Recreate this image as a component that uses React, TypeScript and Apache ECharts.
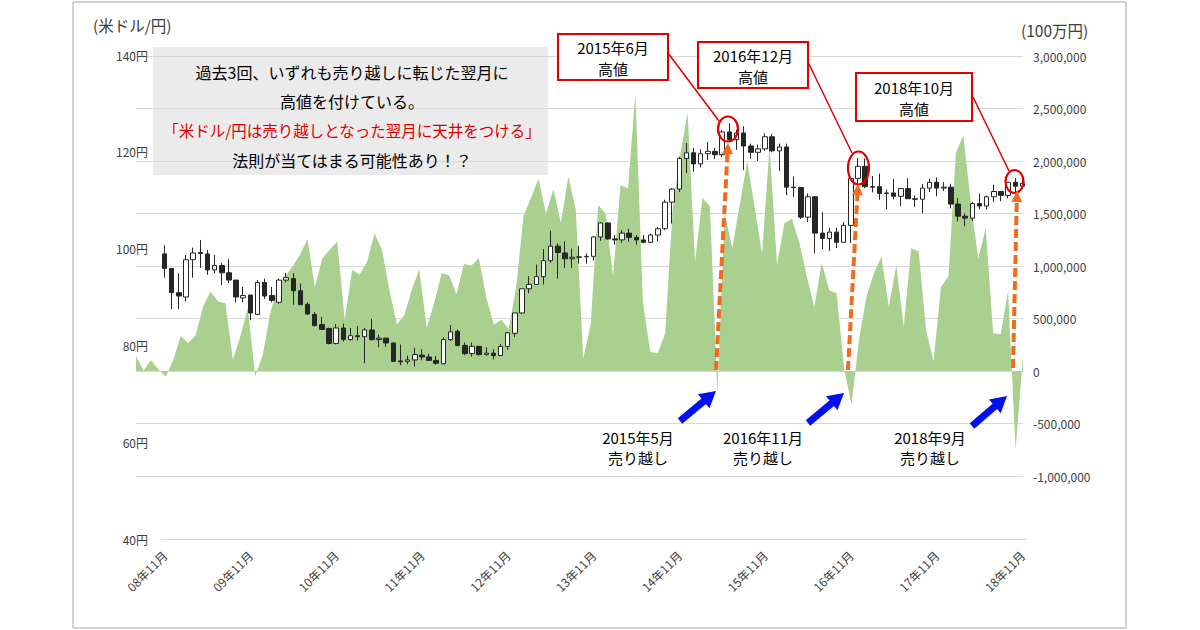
import React, { useEffect, useRef } from "react";
import * as echarts from "echarts";

// USD/JPY monthly candles, 2008-11 .. 2018-11 : [open, close, low, high]
const usdJpyOHLC: number[][] = [
  [98.9, 95.9, 94.0, 100.7], [95.9, 90.9, 87.5, 96.0], [90.9, 90.2, 87.5, 94.9], [90.0, 97.7, 89.1, 98.7],
  [97.7, 99.1, 94.0, 100.2], [99.2, 99.0, 96.0, 101.8], [98.9, 95.6, 94.6, 99.7], [95.6, 96.5, 94.9, 98.7],
  [96.5, 95.0, 92.5, 97.0], [95.0, 93.5, 92.9, 97.8], [93.5, 90.0, 88.9, 93.5], [89.8, 90.3, 88.9, 92.1],
  [90.4, 86.7, 85.2, 90.4], [86.4, 93.0, 86.3, 93.5], [93.0, 90.2, 89.6, 93.8], [90.3, 89.3, 88.9, 92.1],
  [88.9, 93.5, 88.6, 93.8], [93.5, 94.0, 93.0, 95.0], [93.8, 91.3, 88.4, 94.9], [91.3, 88.4, 88.4, 92.8],
  [88.5, 86.5, 86.3, 88.9], [86.4, 84.1, 83.9, 86.9], [84.3, 83.3, 83.2, 85.9], [83.5, 80.4, 80.2, 83.7],
  [80.4, 83.6, 80.2, 84.4], [83.6, 81.2, 80.8, 84.5], [81.2, 82.0, 81.0, 83.6], [82.0, 81.8, 81.0, 84.0],
  [81.8, 83.2, 76.3, 83.6], [83.2, 81.2, 81.0, 85.5], [81.2, 81.5, 79.6, 82.2], [81.5, 80.5, 79.7, 81.6],
  [80.5, 76.7, 76.7, 80.6], [76.8, 76.6, 75.9, 80.2], [76.7, 77.0, 76.1, 77.9], [77.0, 78.1, 75.6, 79.5],
  [78.0, 77.6, 76.9, 79.2], [77.6, 76.9, 76.9, 78.3], [76.9, 76.3, 76.0, 77.8], [76.2, 81.2, 76.1, 81.7],
  [81.2, 82.8, 80.9, 84.2], [82.9, 80.0, 79.8, 83.3], [80.0, 78.3, 78.0, 80.6], [78.3, 79.8, 77.7, 80.6],
  [79.8, 78.1, 77.9, 79.9], [78.1, 78.4, 77.9, 79.6], [78.4, 77.9, 77.1, 79.2], [77.9, 79.8, 77.9, 80.3],
  [79.8, 82.6, 79.1, 82.8], [82.5, 86.7, 81.7, 86.7], [86.7, 91.7, 86.5, 91.7], [91.7, 92.6, 90.8, 94.3],
  [92.6, 94.2, 92.5, 96.7], [94.2, 97.5, 92.6, 99.9], [97.5, 100.5, 97.1, 103.7], [100.5, 99.2, 93.8, 101.1],
  [99.1, 97.9, 96.0, 101.5], [97.9, 98.2, 96.0, 100.0], [98.2, 98.3, 96.9, 100.6], [98.3, 98.4, 96.9, 99.0],
  [98.4, 102.4, 97.5, 102.6], [102.4, 105.3, 101.6, 105.4], [105.3, 102.0, 101.8, 105.4], [102.0, 101.8, 100.8, 102.8],
  [101.8, 103.2, 101.2, 103.8], [103.2, 102.3, 101.4, 104.1], [102.3, 101.8, 100.8, 102.8], [101.8, 101.3, 101.1, 102.8],
  [101.3, 102.8, 101.1, 103.1], [102.8, 104.1, 101.5, 104.5], [104.1, 109.6, 103.8, 110.1], [109.6, 112.3, 105.2, 112.5],
  [112.3, 118.6, 111.7, 119.0], [118.6, 119.8, 115.6, 121.8], [119.8, 117.5, 115.9, 120.8], [117.5, 119.6, 116.8, 120.5],
  [119.6, 120.1, 118.3, 122.0], [120.1, 119.4, 118.5, 120.8], [119.4, 124.1, 118.9, 124.5], [124.1, 122.5, 122.0, 125.9],
  [122.5, 123.9, 120.4, 124.6], [123.9, 121.2, 116.2, 125.3], [121.2, 119.9, 118.6, 121.7], [119.9, 120.6, 118.1, 121.5],
  [120.6, 123.1, 120.2, 123.8], [123.1, 120.2, 119.9, 123.7], [120.2, 121.0, 116.0, 121.7], [121.0, 112.7, 111.0, 121.7],
  [112.7, 112.6, 110.7, 114.9], [112.6, 106.5, 106.1, 112.7], [106.5, 110.7, 105.5, 111.4], [110.7, 103.2, 99.0, 110.9],
  [103.2, 102.1, 99.9, 107.5], [102.1, 103.4, 99.5, 104.3], [103.4, 101.3, 100.1, 104.3], [101.3, 104.8, 101.2, 105.5],
  [104.8, 114.5, 101.2, 114.8], [114.5, 117.0, 112.9, 118.7], [117.0, 112.8, 112.5, 118.6], [112.8, 112.7, 111.6, 115.0],
  [112.8, 111.4, 110.1, 115.5], [111.4, 111.5, 108.1, 112.2], [111.5, 110.8, 110.2, 114.4], [110.8, 112.4, 108.8, 112.5],
  [112.4, 110.3, 110.3, 114.5], [110.3, 110.2, 108.6, 111.0], [110.2, 112.5, 107.3, 113.3], [112.5, 113.7, 111.7, 114.45],
  [113.7, 112.5, 110.8, 114.7], [112.5, 112.7, 111.9, 113.75], [112.7, 109.2, 108.3, 113.4], [109.2, 106.7, 105.6, 110.5],
  [106.7, 106.3, 104.6, 107.3], [106.3, 109.3, 105.7, 109.6], [109.3, 108.8, 108.1, 111.4], [108.8, 110.7, 108.1, 111.0],
  [110.7, 111.8, 109.6, 113.2], [111.8, 111.0, 109.8, 111.8], [111.0, 113.7, 110.4, 113.7], [113.7, 112.9, 111.4, 114.55],
  [112.9, 113.5, 112.3, 114.2],
];

// net yen position (million yen), 2008-11 .. 2018-10
const netPosition: number[] = [
  143000, 5000, 105000, 16000, -54000, 105000, 334000, 264000, 340000, 614000,
  757000, 661000, 645000, 105000, 330000, 600000, -50000, 150000, 550000, 800000,
  900000, 995000, 1107000, 1257000, 800000, 1075000, 1155000, 1234000, 487000, 964000,
  920000, 1040000, 1310000, 1155000, 770000, 440000, 534000, 773000, 970000, 415000,
  645000, 930000, 912000, 730000, 1020000, 1005000, 1075000, 700000, 440000, 487000,
  400000, 800000, 1480000, 1650000, 1830000, 1500000, 1730000, 1410000, 1850000, 1540000,
  120000, 440000, 1580000, 1500000, 900000, 1770000, 1740000, 2640000, 660000, 180000,
  170000, 360000, 1540000, 2050000, 2460000, 1040000, 1650000, 1570000, -200000, 1500000,
  1170000, 1580000, 2000000, 1560000, 1120000, 2140000, 1010000, 1410000, 1450000, 1220000,
  900000, 610000, 1030000, 770000, 740000, 20000, -320000, 300000, 710000, 930000,
  1090000, 610000, 1010000, 420000, 1170000, 1140000, 390000, 90000, 800000, 900000,
  2080000, 2240000, 1600000, 1070000, 1360000, 360000, 350000, 760000, -750000, 140000,
];

function monthLabels(startY: number, startM: number, count: number): string[] {
  const out: string[] = [];
  let y = startY;
  let m = startM;
  for (let i = 0; i < count; i++) {
    out.push(`${String(y % 100).padStart(2, "0")}年${m}月`);
    m++;
    if (m > 12) { m = 1; y++; }
  }
  return out;
}

const candleMonths = monthLabels(2008, 11, usdJpyOHLC.length);
const areaMonths = monthLabels(2008, 11, netPosition.length);

const leftTicks = { min: 40, max: 140, step: 20 };
const rightTicks = { min: -1000000, max: 3000000, step: 500000 };

const FONT = "'Noto Sans CJK JP', 'Noto Sans', sans-serif";
const RED = "#E00000";
const ORANGE = "#F26A1E";
const BLUE = "#0010F0";

function arrowPoly(tx: number, ty: number, hx: number, hy: number, sw: number, hl: number, hw: number) {
  const dx = hx - tx, dy = hy - ty;
  const len = Math.sqrt(dx * dx + dy * dy);
  const ux = dx / len, uy = dy / len;
  const nx = -uy, ny = ux;
  const bx = hx - ux * hl, by = hy - uy * hl;
  return [
    [tx + nx * sw / 2, ty + ny * sw / 2],
    [bx + nx * sw / 2, by + ny * sw / 2],
    [bx + nx * hw / 2, by + ny * hw / 2],
    [hx, hy],
    [bx - nx * hw / 2, by - ny * hw / 2],
    [bx - nx * sw / 2, by - ny * sw / 2],
    [tx - nx * sw / 2, ty - ny * sw / 2],
  ];
}

function txt(text: string, x: number, y: number, size: number, fill = "#000", align = "center") {
  return {
    type: "text", z: 100,
    style: { text, x, y, fill, fontSize: size, fontFamily: FONT, textAlign: align, textVerticalAlign: "middle" },
  };
}

function highBox(x: number, y: number, w: number, h: number, l1: string) {
  return [
    { type: "rect", z: 100, shape: { x, y, width: w, height: h }, style: { fill: "#fff", stroke: RED, lineWidth: 2 } },
    txt(l1, x + w / 2, y + h * 0.3, 15),
    txt("高値", x + w / 2, y + h * 0.74, 15),
  ];
}

function redLine(x1: number, y1: number, x2: number, y2: number) {
  return { type: "line", z: 100, shape: { x1, y1, x2, y2 }, style: { stroke: RED, lineWidth: 1.5 } };
}

function redEllipse(cx: number, cy: number, rx: number, ry: number) {
  return { type: "ellipse", z: 100, shape: { cx, cy, rx, ry }, style: { fill: "none", stroke: RED, lineWidth: 2.2 } };
}

function orangeArrow(x1: number, y1: number, x2: number, y2: number) {
  const pts = arrowPoly(x1, y1, x2, y2, 0, 11, 11);
  const base = pts[1];
  return [
    { type: "line", z: 100, shape: { x1, y1, x2: base[0], y2: base[1] }, style: { stroke: ORANGE, lineWidth: 4, lineDash: [9, 4] } },
    { type: "polygon", z: 100, shape: { points: [pts[2], pts[3], pts[4]] }, style: { fill: ORANGE } },
  ];
}

function blueArrow(tx: number, ty: number, hx: number, hy: number) {
  return { type: "polygon", z: 100, shape: { points: arrowPoly(tx, ty, hx, hy, 7, 16, 18) }, style: { fill: BLUE } };
}

export default function App() {
  const ref = useRef<HTMLDivElement>(null);

  useEffect(() => {
    if (!ref.current) return;
    const chart = echarts.init(ref.current, null, { renderer: "svg" });

    const graphic: any[] = [
      { type: "rect", z: 100, shape: { x: 73, y: 2, width: 1053, height: 626 }, style: { fill: "none", stroke: "#A6A6A6", lineWidth: 1 } },
      txt("(米ドル/円)", 93, 25, 15.5, "#404040", "left"),
      txt("(100万円)", 1021, 30, 15.5, "#404040", "left"),
      { type: "rect", z: -1, shape: { x: 153, y: 47, width: 395, height: 128 }, style: { fill: "rgba(222,222,222,0.6)" } },
      txt("過去3回、いずれも売り越しに転じた翌月に", 352, 72, 16),
      txt("高値を付けている。", 352, 101, 16),
      txt("「米ドル/円は売り越しとなった翌月に天井をつける」", 352, 130, 15.5, RED),
      txt("法則が当てはまる可能性あり！？", 352, 160, 16),
      ...highBox(558, 34, 110, 46, "2015年6月"),
      ...highBox(698, 42, 110, 46, "2016年12月"),
      ...highBox(856, 73, 116, 48, "2018年10月"),
      redLine(668, 53, 719, 121),
      redLine(808, 62, 852, 153),
      redLine(973, 97, 1009, 171),
      redEllipse(728, 129, 10, 12.5),
      redEllipse(858.5, 168, 10.5, 16.5),
      redEllipse(1014.5, 181.5, 9, 11.5),
      ...orangeArrow(716, 370, 728, 143),
      ...orangeArrow(848, 370, 858, 184),
      ...orangeArrow(1013, 368, 1017, 191),
      blueArrow(680, 421, 716, 391),
      blueArrow(808, 423, 844, 393),
      blueArrow(972, 426, 1007, 396),
      txt("2015年5月", 638, 437, 15),
      txt("売り越し", 638, 457, 15),
      txt("2016年11月", 763, 437, 15),
      txt("売り越し", 763, 457, 15),
      txt("2018年9月", 930, 437, 15),
      txt("売り越し", 930, 457, 15),
    ];

    chart.setOption({
      animation: false,
      textStyle: { fontFamily: FONT },
      grid: [
        { left: 161, right: 174, top: 55, bottom: 91 },
        { left: 136, right: 177, top: 56, bottom: 154 },
      ],
      xAxis: [
        {
          type: "category", gridIndex: 0, data: candleMonths, boundaryGap: true,
          axisLine: { show: true, lineStyle: { color: "#D9D9D9", width: 1 } },
          axisTick: { show: false },
          splitLine: { show: false },
          axisLabel: {
            interval: (_i: number, v: string) => v.endsWith("年11月"),
            rotate: 45, fontSize: 12, color: "#404040", margin: 14, fontFamily: FONT,
          },
        },
        { type: "category", gridIndex: 1, data: areaMonths, boundaryGap: false, show: false },
      ],
      yAxis: [
        {
          type: "value", gridIndex: 0, min: leftTicks.min, max: leftTicks.max, interval: leftTicks.step,
          axisLine: { show: false }, axisTick: { show: false }, splitLine: { show: false },
          axisLabel: { formatter: "{value}円", fontSize: 12, color: "#404040", margin: 13, fontFamily: FONT },
        },
        {
          type: "value", gridIndex: 1, position: "right", min: rightTicks.min, max: rightTicks.max, interval: rightTicks.step,
          axisLine: { show: false }, axisTick: { show: false },
          splitLine: { show: true, lineStyle: { color: "#D9D9D9", width: 1 } },
          axisLabel: {
            formatter: (v: number) => v.toLocaleString("en-US"),
            fontSize: 12, color: "#404040", margin: 10, align: "left", fontFamily: FONT,
          },
        },
      ],
      series: [
        {
          type: "line", xAxisIndex: 1, yAxisIndex: 1, data: netPosition, z: 1,
          symbol: "none", showSymbol: false,
          lineStyle: { width: 0, color: "#A9D08E" },
          areaStyle: { color: "#A9D08E", opacity: 1 },
        },
        {
          type: "candlestick", xAxisIndex: 0, yAxisIndex: 0, data: usdJpyOHLC, z: 3, barWidth: 5,
          itemStyle: { color: "#FFFFFF", color0: "#262626", borderColor: "#262626", borderColor0: "#262626", borderWidth: 1 },
        },
      ],
      graphic,
    });

    return () => chart.dispose();
  }, []);

  return <div ref={ref} style={{ position: "absolute", left: 0, top: 0, width: 1200, height: 630 }} />;
}
